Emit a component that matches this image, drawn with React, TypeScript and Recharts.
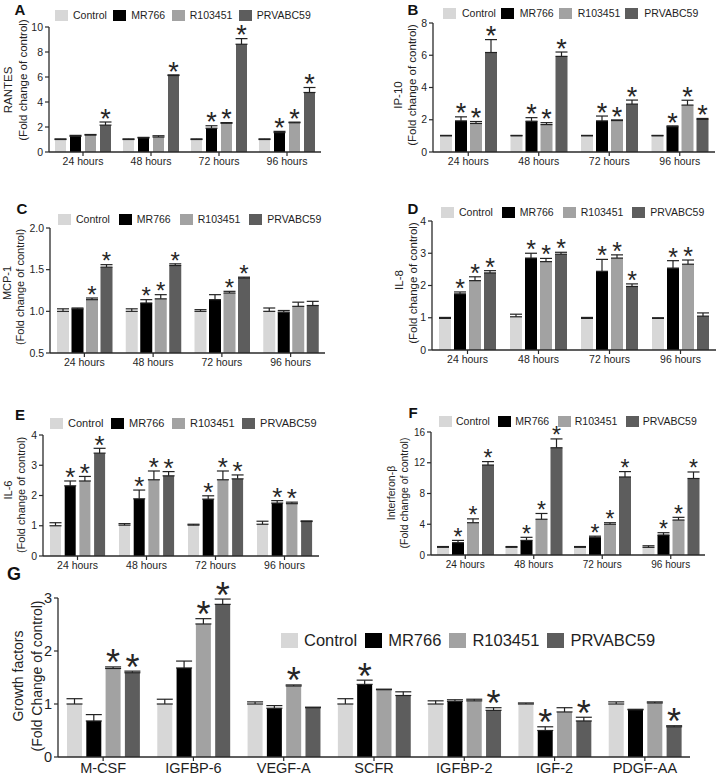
import React from "react";
import { BarChart, Bar, XAxis, YAxis, ErrorBar, LabelList } from "recharts";

const PAGE_W = 716;
const PAGE_H = 782;

const seriesNames = ["Control", "MR766", "R103451", "PRVABC59"];
const seriesColors = ["#d7d7d7", "#000000", "#a2a2a2", "#5d5d5d"];

const timeCategories = ["24 hours", "48 hours", "72 hours", "96 hours"];
const growthCategories = ["M-CSF", "IGFBP-6", "VEGF-A", "SCFR", "IGFBP-2", "IGF-2", "PDGF-AA"];

// A: RANTES  (rows: Control, MR766, R103451, PRVABC59)
const rantesMeans = [
  [1.0, 1.0, 1.0, 1.0],
  [1.25, 1.12, 1.9, 1.55],
  [1.35, 1.2, 2.3, 2.34],
  [2.15, 6.12, 8.62, 4.76],
];
const rantesErrors = [
  [0.05, 0.05, 0.05, 0.05],
  [0.08, 0.05, 0.2, 0.1],
  [0.05, 0.1, 0.05, 0.05],
  [0.25, 0.05, 0.45, 0.4],
];
const rantesStars = [
  [0, 0, 0, 0],
  [0, 0, 1, 1],
  [0, 0, 1, 1],
  [1, 1, 1, 1],
];
const rantesTicks = [0, 2, 4, 6, 8, 10];

// B: IP-10
const ip10Means = [
  [1.0, 1.0, 1.0, 1.0],
  [1.93, 1.91, 1.93, 1.57],
  [1.77, 1.7, 1.95, 2.91],
  [6.17, 5.93, 2.97, 2.02],
];
const ip10Errors = [
  [0.03, 0.03, 0.03, 0.03],
  [0.25, 0.22, 0.3, 0.05],
  [0.12, 0.12, 0.04, 0.3],
  [0.8, 0.27, 0.25, 0.06],
];
const ip10Stars = [
  [0, 0, 0, 0],
  [1, 1, 1, 1],
  [1, 1, 1, 1],
  [1, 1, 1, 1],
];
const ip10Ticks = [0, 2, 4, 6, 8];

// C: MCP-1
const mcp1Means = [
  [1.0, 1.0, 1.0, 1.0],
  [1.03, 1.1, 1.14, 0.99],
  [1.14, 1.15, 1.22, 1.06],
  [1.53, 1.55, 1.4, 1.07],
];
const mcp1Errors = [
  [0.03, 0.03, 0.02, 0.04],
  [0.01, 0.04, 0.06, 0.02],
  [0.02, 0.05, 0.02, 0.05],
  [0.03, 0.02, 0.01, 0.05],
];
const mcp1Stars = [
  [0, 0, 0, 0],
  [0, 1, 0, 0],
  [1, 1, 1, 0],
  [1, 1, 1, 0],
];
const mcp1Ticks = [0.5, 1.0, 1.5, 2.0];

// D: IL-8
const il8Means = [
  [0.98, 1.03, 0.98, 0.98],
  [1.74, 2.85, 2.44, 2.54],
  [2.15, 2.74, 2.85, 2.66],
  [2.39, 2.97, 1.97, 1.05],
];
const il8Errors = [
  [0.03, 0.08, 0.03, 0.02],
  [0.06, 0.15, 0.37, 0.23],
  [0.12, 0.1, 0.1, 0.13],
  [0.07, 0.06, 0.08, 0.1],
];
const il8Stars = [
  [0, 0, 0, 0],
  [1, 1, 1, 1],
  [1, 1, 1, 1],
  [1, 1, 1, 0],
];
const il8Ticks = [0, 1, 2, 3, 4];

// E: IL-6
const il6Means = [
  [1.0, 1.02, 1.02, 1.05],
  [2.32, 1.89, 1.88, 1.75],
  [2.48, 2.52, 2.52, 1.73],
  [3.4, 2.65, 2.55, 1.14],
];
const il6Errors = [
  [0.1, 0.05, 0.03, 0.1],
  [0.16, 0.29, 0.11, 0.08],
  [0.15, 0.29, 0.29, 0.05],
  [0.16, 0.14, 0.13, 0.02],
];
const il6Stars = [
  [0, 0, 0, 0],
  [1, 1, 1, 1],
  [1, 1, 1, 1],
  [1, 1, 1, 0],
];
const il6Ticks = [0, 1, 2, 3, 4];

// F: Interferon-beta
const ifnMeans = [
  [1.0, 1.0, 1.0, 1.0],
  [1.6, 1.9, 2.3, 2.6],
  [4.2, 4.65, 4.0, 4.55],
  [11.7, 13.95, 10.15, 9.95],
];
const ifnErrors = [
  [0.1, 0.1, 0.1, 0.2],
  [0.3, 0.4, 0.15, 0.3],
  [0.5, 0.75, 0.2, 0.35],
  [0.45, 1.15, 0.7, 0.85],
];
const ifnStars = [
  [0, 0, 0, 0],
  [1, 1, 1, 1],
  [1, 1, 1, 1],
  [1, 1, 1, 1],
];
const ifnTicks = [0, 4, 8, 12, 16];

// G: Growth factors
const growthMeans = [
  [1.0, 1.0, 1.0, 1.0, 1.0, 1.0, 1.0],
  [0.68, 1.68, 0.92, 1.37, 1.05, 0.5, 0.89],
  [1.67, 2.51, 1.34, 1.27, 1.06, 0.85, 1.02],
  [1.59, 2.88, 0.93, 1.16, 0.88, 0.68, 0.57],
];
const growthErrors = [
  [0.1, 0.09, 0.04, 0.1, 0.06, 0.02, 0.04],
  [0.12, 0.13, 0.05, 0.08, 0.03, 0.07, 0.01],
  [0.03, 0.1, 0.02, 0.01, 0.03, 0.08, 0.02],
  [0.03, 0.1, 0.01, 0.07, 0.05, 0.07, 0.02],
];
const growthStars = [
  [0, 0, 0, 0, 0, 0, 0],
  [0, 0, 0, 1, 0, 1, 0],
  [1, 1, 1, 0, 0, 0, 0],
  [1, 1, 0, 0, 1, 1, 1],
];
const growthTicks = [0, 1, 2, 3];

type Panel = {
  key: string;
  letter: string;
  letterPos: [number, number];
  letterSize: number;
  categories: string[];
  means: number[][];
  errors: number[][];
  stars: number[][];
  yDomain: [number, number];
  yTicks: number[];
  tickDigits: number;
  plot: { left: number; top: number; width: number; height: number };
  barSize: number;
  barGap: number;
  tickFont: number;
  starSize: number;
  starGap: number;
  capWidth: number;
  title: string[];
  titleX: number[];
  titleY: number[];
  titleSize: number;
  legend: { x: number; y: number; font: number; sqW: number; sqH: number; sqGap: number; itemGap: number };
};

const FONT = "'Liberation Sans', Arial, sans-serif";
const AXIS = "#2a2a2a";

const panels: Panel[] = [
  {
    key: "A", letter: "A", letterPos: [20, 9], letterSize: 15,
    categories: timeCategories, means: rantesMeans, errors: rantesErrors, stars: rantesStars,
    yDomain: [0, 10], yTicks: rantesTicks, tickDigits: 0,
    plot: { left: 49, top: 27, width: 272, height: 125 },
    barSize: 11, barGap: 4, tickFont: 10.5, starSize: 27, starGap: 3, capWidth: 6,
    title: ["RANTES", "(Fold change of control)"], titleX: [8, 23], titleY: [90, 80], titleSize: 11.5,
    legend: { x: 55, y: 15, font: 10.5, sqW: 13, sqH: 11, sqGap: 5, itemGap: 6.5 },
  },
  {
    key: "B", letter: "B", letterPos: [413, 9], letterSize: 15,
    categories: timeCategories, means: ip10Means, errors: ip10Errors, stars: ip10Stars,
    yDomain: [0, 8], yTicks: ip10Ticks, tickDigits: 0,
    plot: { left: 433, top: 23, width: 282, height: 129 },
    barSize: 12, barGap: 3, tickFont: 10.5, starSize: 27, starGap: 3, capWidth: 6,
    title: ["IP-10", "(Fold change of control)"], titleX: [398, 412], titleY: [95, 85], titleSize: 11.5,
    legend: { x: 443, y: 13, font: 10.5, sqW: 13, sqH: 11, sqGap: 6, itemGap: 5 },
  },
  {
    key: "C", letter: "C", letterPos: [22, 208], letterSize: 15,
    categories: timeCategories, means: mcp1Means, errors: mcp1Errors, stars: mcp1Stars,
    yDomain: [0.5, 2.0], yTicks: mcp1Ticks, tickDigits: 1,
    plot: { left: 50, top: 228, width: 275, height: 125 },
    barSize: 12, barGap: 2.5, tickFont: 10.5, starSize: 24, starGap: 3, capWidth: 6,
    title: ["MCP-1", "(Fold change of control)"], titleX: [7, 20], titleY: [283, 287], titleSize: 11,
    legend: { x: 58, y: 219, font: 10.5, sqW: 13, sqH: 11, sqGap: 5, itemGap: 9 },
  },
  {
    key: "D", letter: "D", letterPos: [413, 208], letterSize: 15,
    categories: timeCategories, means: il8Means, errors: il8Errors, stars: il8Stars,
    yDomain: [0, 4], yTicks: il8Ticks, tickDigits: 0,
    plot: { left: 432, top: 221, width: 284, height: 129 },
    barSize: 12, barGap: 3, tickFont: 10.5, starSize: 25, starGap: 3, capWidth: 6,
    title: ["IL-8", "(Fold change of control)"], titleX: [399, 413], titleY: [280, 283], titleSize: 11.5,
    legend: { x: 441, y: 212, font: 10.5, sqW: 13, sqH: 11, sqGap: 5, itemGap: 9 },
  },
  {
    key: "E", letter: "E", letterPos: [20, 414], letterSize: 15,
    categories: timeCategories, means: il6Means, errors: il6Errors, stars: il6Stars,
    yDomain: [0, 4], yTicks: il6Ticks, tickDigits: 0,
    plot: { left: 43, top: 435, width: 276, height: 121 },
    barSize: 11, barGap: 3.7, tickFont: 10.5, starSize: 26, starGap: 3, capWidth: 6,
    title: ["IL-6", "(Fold change of control)"], titleX: [8, 21], titleY: [490, 495], titleSize: 11,
    legend: { x: 50, y: 423, font: 11, sqW: 13, sqH: 11, sqGap: 5, itemGap: 7.5 },
  },
  {
    key: "F", letter: "F", letterPos: [413, 412], letterSize: 15,
    categories: timeCategories, means: ifnMeans, errors: ifnErrors, stars: ifnStars,
    yDomain: [0, 16], yTicks: ifnTicks, tickDigits: 0,
    plot: { left: 431, top: 432, width: 274, height: 123 },
    barSize: 12, barGap: 3, tickFont: 10, starSize: 23, starGap: 3, capWidth: 6,
    title: ["Interferon-\u03b2", "(Fold change of control)"], titleX: [391, 404], titleY: [493, 493], titleSize: 10.5,
    legend: { x: 439, y: 421, font: 10.5, sqW: 13, sqH: 11, sqGap: 4, itemGap: 8.5 },
  },
  {
    key: "G", letter: "G", letterPos: [14, 574], letterSize: 18,
    categories: growthCategories, means: growthMeans, errors: growthErrors, stars: growthStars,
    yDomain: [0, 3], yTicks: growthTicks, tickDigits: 0,
    plot: { left: 58, top: 598, width: 632, height: 159 },
    barSize: 15, barGap: 4.3, tickFont: 14.5, starSize: 36, starGap: 3, capWidth: 8,
    title: ["Growth factors", "(Fold Change of control)"], titleX: [18, 37], titleY: [676, 676], titleSize: 14,
    legend: { x: 281, y: 640, font: 16.5, sqW: 17, sqH: 15, sqGap: 6, itemGap: 8 },
  },
];

const YW = 40;
const XH = 24;

function buildRows(p: Panel) {
  return p.categories.map((cat, ci) => {
    const row: any = { cat };
    for (let s = 0; s < seriesNames.length; s++) {
      row[`v${s}`] = p.means[s][ci];
      row[`e${s}`] = [0, p.errors[s][ci]];
      row[`s${s}`] = p.stars[s][ci];
    }
    return row;
  });
}

function makeStar(p: Panel, si: number) {
  return (props: any) => {
    const vb = props.viewBox || {};
    const x = Number(props.x ?? vb.x);
    const y = Number(props.y ?? vb.y);
    const width = Number(props.width ?? vb.width);
    const height = Number(props.height ?? vb.height);
    const index = props.index;
    if (index == null || !p.stars[si][index]) return null;
    const mean = p.means[si][index];
    const err = p.errors[si][index];
    const base = Math.max(p.yDomain[0], 0);
    const ppu = Math.abs(height) / (mean - base);
    const top = y - err * ppu;
    const fs = p.starSize;
    return (
      <text
        key={`st-${si}-${index}`}
        x={x + width / 2}
        y={top - p.starGap + 0.32 * fs}
        textAnchor="middle"
        fontSize={fs}
        fontFamily={FONT}
        fill="#262626"
      >
        *
      </text>
    );
  };
}

function Titles({ p }: { p: Panel }) {
  return (
    <g>
      {p.title.map((t, i) => (
        <text
          key={i}
          x={p.titleX[i]}
          y={p.titleY[i]}
          transform={`rotate(-90 ${p.titleX[i]} ${p.titleY[i]})`}
          textAnchor="middle"
          dominantBaseline="central"
          fontSize={p.titleSize}
          fontFamily={FONT}
          fill="#222"
        >
          {t}
        </text>
      ))}
    </g>
  );
}

function PanelChart({ p }: { p: Panel }) {
  const data = buildRows(p);
  const margin = {
    left: p.plot.left - YW,
    top: p.plot.top,
    right: PAGE_W - p.plot.left - p.plot.width,
    bottom: PAGE_H - p.plot.top - p.plot.height - XH,
  };
  return (
    <div style={{ position: "absolute", left: 0, top: 0 }}>
      <BarChart width={PAGE_W} height={PAGE_H} data={data} margin={margin} barGap={p.barGap}>
        <XAxis
          dataKey="cat"
          type="category"
          interval={0}
          height={XH}
          axisLine={{ stroke: AXIS, strokeWidth: 1.3 }}
          tickLine={{ stroke: AXIS, strokeWidth: 1.2 }}
          tickSize={4}
          tick={{ fontSize: p.tickFont, fill: "#1e1e1e", fontFamily: FONT }}
        />
        <YAxis
          type="number"
          width={YW}
          domain={p.yDomain}
          ticks={p.yTicks}
          allowDataOverflow
          interval={0}
          axisLine={{ stroke: AXIS, strokeWidth: 1.3 }}
          tickLine={{ stroke: AXIS, strokeWidth: 1.2 }}
          tickSize={4}
          tickFormatter={(v: number) => v.toFixed(p.tickDigits)}
          tick={{ fontSize: p.tickFont, fill: "#1e1e1e", fontFamily: FONT }}
          label={{ content: () => <Titles p={p} /> }}
        />
        {seriesNames.map((name, si) => (
          <Bar
            key={name}
            dataKey={`v${si}`}
            name={name}
            fill={seriesColors[si]}
            barSize={p.barSize}
            isAnimationActive={false}
          >
            <ErrorBar dataKey={`e${si}`} width={p.capWidth} stroke="#222" strokeWidth={1.2} direction="y" />
            <LabelList dataKey={`s${si}`} content={makeStar(p, si)} />
          </Bar>
        ))}
      </BarChart>
    </div>
  );
}

function LegendRow({ p }: { p: Panel }) {
  const L = p.legend;
  return (
    <div
      style={{
        position: "absolute",
        left: L.x,
        top: L.y - 10,
        height: 20,
        display: "flex",
        alignItems: "center",
        whiteSpace: "nowrap",
        fontFamily: FONT,
        fontSize: L.font,
        color: "#1e1e1e",
      }}
    >
      {seriesNames.map((n, i) => (
        <div key={n} style={{ display: "flex", alignItems: "center", marginRight: L.itemGap }}>
          <div style={{ width: L.sqW, height: L.sqH, background: seriesColors[i], marginRight: L.sqGap }} />
          <span>{n}</span>
        </div>
      ))}
    </div>
  );
}

function Letter({ p }: { p: Panel }) {
  return (
    <div
      style={{
        position: "absolute",
        left: p.letterPos[0],
        top: p.letterPos[1],
        transform: "translate(-50%, -50%)",
        fontFamily: FONT,
        fontWeight: 700,
        fontSize: p.letterSize,
        lineHeight: 1,
        color: "#111",
      }}
    >
      {p.letter}
    </div>
  );
}

export default function App() {
  return (
    <div
      style={{
        position: "absolute",
        left: 0,
        top: 0,
        width: PAGE_W,
        height: PAGE_H,
        background: "#ffffff",
        overflow: "hidden",
        fontFamily: FONT,
      }}
    >
      {panels.map((p) => (
        <PanelChart key={p.key} p={p} />
      ))}
      {panels.map((p) => (
        <LegendRow key={`lg-${p.key}`} p={p} />
      ))}
      {panels.map((p) => (
        <Letter key={`lt-${p.key}`} p={p} />
      ))}
    </div>
  );
}
